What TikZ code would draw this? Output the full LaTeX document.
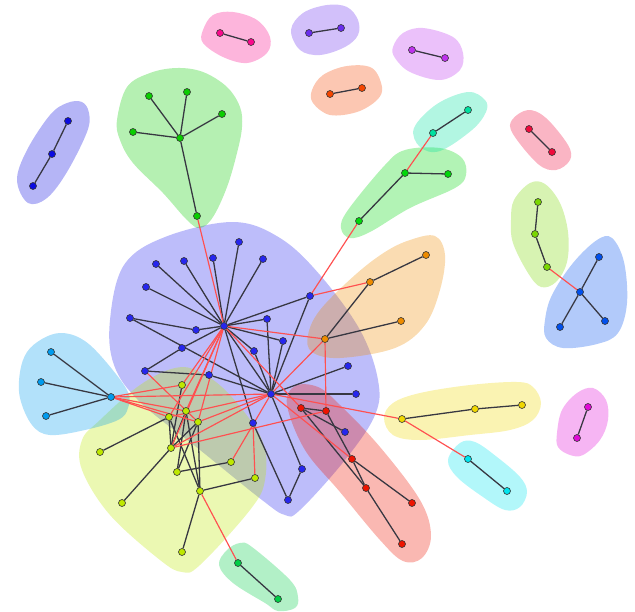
\documentclass[tikz,border=0pt]{standalone}
\usepackage{xcolor}
\usepackage{tikz}
\usetikzlibrary{calc}
\definecolor{clblue}{RGB}{38, 38, 238}
\definecolor{clyellow}{RGB}{190, 232, 0}
\definecolor{clred}{RGB}{238, 20, 0}
\definecolor{clorange}{RGB}{238, 140, 0}
\definecolor{clcyan}{RGB}{0, 155, 238}
\definecolor{clgreen}{RGB}{10, 205, 0}
\definecolor{clgreenb}{RGB}{0, 215, 10}
\definecolor{clteal}{RGB}{0, 225, 160}
\definecolor{clpink}{RGB}{250, 10, 140}
\definecolor{clpurple}{RGB}{105, 45, 238}
\definecolor{clviolet}{RGB}{190, 50, 238}
\definecolor{clrust}{RGB}{245, 70, 0}
\definecolor{clrose}{RGB}{240, 10, 60}
\definecolor{cllime}{RGB}{122, 215, 0}
\definecolor{clsky}{RGB}{0, 80, 238}
\definecolor{clgold}{RGB}{240, 215, 0}
\definecolor{claqua}{RGB}{0, 228, 238}
\definecolor{clmagenta}{RGB}{225, 10, 215}
\definecolor{clmint}{RGB}{0, 205, 70}
\definecolor{clnavy}{RGB}{10, 10, 225}
\definecolor{linkdark}{RGB}{55, 55, 65}
\definecolor{linkred}{RGB}{255, 80, 80}
\pgfdeclarelayer{hulls}
\pgfdeclarelayer{links}
\pgfsetlayers{hulls,links,main}
\tikzset{
    vertex/.style={circle, draw=black!80, line width=0.5pt, fill=#1, minimum size=6pt, inner sep=0pt},
    hull/.style={fill=#1, fill opacity=0.3, draw=none},
    link/.style={draw=linkdark, line width=1.1pt},
    cross/.style={draw=linkred, line width=1pt}
}

\begin{document}
\begin{tikzpicture}[x=0.03cm, y=-0.03cm]
    \useasboundingbox (0,0) rectangle (635,612);

    % blue group
    \node (bA) [vertex=clblue] at (224,326) {};
    \node (bB) [vertex=clblue] at (271,394) {};
    \node (b1) [vertex=clblue] at (239,242) {};
    \node (b2) [vertex=clblue] at (263,259) {};
    \node (b3) [vertex=clblue] at (213,258) {};
    \node (b4) [vertex=clblue] at (184,261) {};
    \node (b5) [vertex=clblue] at (156,264) {};
    \node (b6) [vertex=clblue] at (146,287) {};
    \node (b7) [vertex=clblue] at (130,318) {};
    \node (b8) [vertex=clblue] at (196,330) {};
    \node (b9) [vertex=clblue] at (182,348) {};
    \node (b10) [vertex=clblue] at (145,371) {};
    \node (b11) [vertex=clblue] at (209,375) {};
    \node (b12) [vertex=clblue] at (254,351) {};
    \node (b13) [vertex=clblue] at (283,341) {};
    \node (b14) [vertex=clblue] at (267,319) {};
    \node (b15) [vertex=clblue] at (310,296) {};
    \node (b16) [vertex=clblue] at (348,366) {};
    \node (b17) [vertex=clblue] at (356,394) {};
    \node (b18) [vertex=clblue] at (253,423) {};
    \node (b19) [vertex=clblue] at (345,432) {};
    \node (b20) [vertex=clblue] at (302,469) {};
    \node (b21) [vertex=clblue] at (288,500) {};

    % yellow group
    \node (y1) [vertex=clyellow] at (182,385) {};
    \node (y2) [vertex=clyellow] at (186,411) {};
    \node (y3) [vertex=clyellow] at (169,417) {};
    \node (y4) [vertex=clyellow] at (198,422) {};
    \node (y5) [vertex=clyellow] at (171,448) {};
    \node (y6) [vertex=clyellow] at (177,472) {};
    \node (y7) [vertex=clyellow] at (231,462) {};
    \node (y8) [vertex=clyellow] at (255,478) {};
    \node (y9) [vertex=clyellow] at (200,491) {};
    \node (y10) [vertex=clyellow] at (100,452) {};
    \node (y11) [vertex=clyellow] at (122,503) {};
    \node (y12) [vertex=clyellow] at (182,552) {};

    % red group
    \node (r1) [vertex=clred] at (301,408) {};
    \node (r2) [vertex=clred] at (326,411) {};
    \node (r3) [vertex=clred] at (352,459) {};
    \node (r4) [vertex=clred] at (366,488) {};
    \node (r5) [vertex=clred] at (412,503) {};
    \node (r6) [vertex=clred] at (402,544) {};

    % orange group
    \node (o1) [vertex=clorange] at (325,339) {};
    \node (o2) [vertex=clorange] at (370,282) {};
    \node (o3) [vertex=clorange] at (426,255) {};
    \node (o4) [vertex=clorange] at (401,321) {};

    % cyan group
    \node (c0) [vertex=clcyan] at (111,397) {};
    \node (c1) [vertex=clcyan] at (51,352) {};
    \node (c2) [vertex=clcyan] at (41,382) {};
    \node (c3) [vertex=clcyan] at (46,416) {};

    % green tree
    \node (g0) [vertex=clgreen] at (180,138) {};
    \node (g1) [vertex=clgreen] at (149,96) {};
    \node (g2) [vertex=clgreen] at (187,92) {};
    \node (g3) [vertex=clgreen] at (222,114) {};
    \node (g4) [vertex=clgreen] at (133,132) {};
    \node (g5) [vertex=clgreen] at (197,216) {};

    % small groups
    \node (h1) [vertex=clgreenb] at (405,173) {};
    \node (h2) [vertex=clgreenb] at (448,174) {};
    \node (h3) [vertex=clgreenb] at (359,221) {};
    \node (t1) [vertex=clteal] at (468,110) {};
    \node (t2) [vertex=clteal] at (433,133) {};
    \node (p1) [vertex=clpink] at (220,33) {};
    \node (p2) [vertex=clpink] at (251,42) {};
    \node (u1) [vertex=clpurple] at (309,33) {};
    \node (u2) [vertex=clpurple] at (341,28) {};
    \node (v1) [vertex=clviolet] at (412,50) {};
    \node (v2) [vertex=clviolet] at (445,58) {};
    \node (s1) [vertex=clrust] at (330,94) {};
    \node (s2) [vertex=clrust] at (362,88) {};
    \node (k1) [vertex=clrose] at (529,129) {};
    \node (k2) [vertex=clrose] at (552,152) {};
    \node (l1) [vertex=cllime] at (538,202) {};
    \node (l2) [vertex=cllime] at (535,234) {};
    \node (l3) [vertex=cllime] at (547,267) {};
    \node (q0) [vertex=clsky] at (580,292) {};
    \node (q1) [vertex=clsky] at (599,257) {};
    \node (q2) [vertex=clsky] at (560,327) {};
    \node (q3) [vertex=clsky] at (605,321) {};
    \node (w1) [vertex=clgold] at (402,419) {};
    \node (w2) [vertex=clgold] at (475,409) {};
    \node (w3) [vertex=clgold] at (522,405) {};
    \node (a1) [vertex=claqua] at (468,459) {};
    \node (a2) [vertex=claqua] at (507,491) {};
    \node (m1) [vertex=clmagenta] at (588,407) {};
    \node (m2) [vertex=clmagenta] at (577,438) {};
    \node (e1) [vertex=clmint] at (238,563) {};
    \node (e2) [vertex=clmint] at (278,599) {};
    \node (n1) [vertex=clnavy] at (68,121) {};
    \node (n2) [vertex=clnavy] at (52,154) {};
    \node (n3) [vertex=clnavy] at (33,186) {};

    \begin{pgfonlayer}{links}
    \foreach \n in {b1,b2,b3,b4,b5,b6,b8,b9,b12,b13,b14,b15,b18,bB}
        \draw [link] (bA) -- (\n);
    \foreach \n in {b7,b11,b12,b13,b14,b15,b16,b17,b20}
        \draw [link] (bB) -- (\n);
    \draw [link] (b7) -- (b8);
    \draw [link] (b9) -- (b10);
    \draw [link] (b10) -- (b11);
    \draw [link] (b18) -- (b21);
    \draw [link] (b20) -- (b21);
    \draw [link] (b19) -- (r1);

    \draw [link] (y1) -- (y5);
    \draw [link] (y3) -- (y5);
    \draw [link] (y3) -- (y9);
    \draw [link] (y2) -- (y6);
    \draw [link] (y2) -- (y5);
    \draw [link] (y4) -- (y5);
    \draw [link] (y4) -- (y6);
    \draw [link] (y4) -- (y9);
    \draw [link] (y2) -- (y9);
    \draw [link] (y6) -- (y7);
    \draw [link] (y9) -- (y8);
    \draw [link] (y5) -- (y11);
    \draw [link] (y3) -- (y10);
    \draw [link] (y9) -- (y12);

    \draw [link] (r1) -- (r2);
    \draw [link] (r1) -- (r4);
    \draw [link] (r2) -- (r3);
    \draw [link] (r3) -- (r4);
    \draw [link] (r3) -- (r5);
    \draw [link] (r4) -- (r6);

    \draw [link] (o1) -- (o2);
    \draw [link] (o2) -- (o3);
    \draw [link] (o1) -- (o4);

    \foreach \n in {c1,c2,c3}
        \draw [link] (c0) -- (\n);
    \foreach \n in {g1,g2,g3,g4,g5}
        \draw [link] (g0) -- (\n);
    \foreach \n in {q1,q2,q3}
        \draw [link] (q0) -- (\n);
    \draw [link] (h1) -- (h2);
    \draw [link] (h1) -- (h3);
    \draw [link] (t1) -- (t2);
    \draw [link] (p1) -- (p2);
    \draw [link] (u1) -- (u2);
    \draw [link] (v1) -- (v2);
    \draw [link] (s1) -- (s2);
    \draw [link] (k1) -- (k2);
    \draw [link] (l1) -- (l2);
    \draw [link] (l2) -- (l3);
    \draw [link] (w1) -- (w2);
    \draw [link] (w2) -- (w3);
    \draw [link] (a1) -- (a2);
    \draw [link] (m1) -- (m2);
    \draw [link] (e1) -- (e2);
    \draw [link] (n1) -- (n2);
    \draw [link] (n2) -- (n3);

    % links between groups
    \foreach \n in {y1,y2,y3,y4,y5,g5,o1,r1}
        \draw [cross] (bA) -- (\n);
    \foreach \n in {y3,y4,y5,y7,o1,r3,w1,c0}
        \draw [cross] (bB) -- (\n);
    \foreach \n in {y1,y2,y3,y4}
        \draw [cross] (c0) -- (\n);
    \draw [cross] (b10) -- (y4);
    \draw [cross] (b18) -- (y8);
    \draw [cross] (y5) -- (r2);
    \draw [cross] (o1) -- (r2);
    \draw [cross] (b15) -- (o2);
    \draw [cross] (b15) -- (h3);
    \draw [cross] (h1) -- (t2);
    \draw [cross] (w1) -- (a1);
    \draw [cross] (l3) -- (q0);
    \draw [cross] (y9) -- (e1);
    \end{pgfonlayer}

    \begin{pgfonlayer}{hulls}
    \fill [hull=clblue] plot [smooth cycle, tension=0.6] coordinates {(233,222) (280,238) (320,275) (360,330) (378,380) (375,415) (345,460) (300,510) (285,515) (262,500) (200,450) (140,402) (114,365) (110,320) (124,265) (165,237)};
    \fill [hull=clyellow] plot [smooth cycle, tension=0.6] coordinates {(175,368) (200,372) (230,395) (262,440) (265,480) (250,510) (200,565) (182,572) (160,560) (110,515) (82,470) (82,440) (100,420) (140,385)};
    \fill [hull=clred] plot [smooth cycle, tension=0.6] coordinates {(295,386) (318,387) (340,405) (380,447) (420,500) (431,535) (422,558) (403,561) (380,540) (340,492) (305,450) (287,405)};
    \fill [hull=clorange] plot [smooth cycle, tension=0.6] coordinates {(410,240) (435,236) (445,255) (440,290) (425,325) (395,348) (340,358) (312,352) (308,335) (320,310) (355,275) (385,252)};
    \fill [hull=clcyan] plot [smooth cycle, tension=0.6] coordinates {(20,372) (27,352) (42,339) (60,333) (80,338) (100,355) (127,390) (128,408) (118,420) (85,430) (50,435) (32,425) (20,398)};
    \fill [hull=clgreen] plot [smooth cycle, tension=0.6] coordinates {(117,120) (127,87) (150,73) (177,68) (203,72) (227,87) (240,107) (242,127) (237,153) (227,187) (213,217) (200,228) (187,220) (163,193) (133,163) (120,140)};
    \fill [hull=clgreenb] plot [smooth cycle, tension=0.6] coordinates {(405,150) (440,148) (462,158) (466,175) (455,188) (410,208) (370,232) (350,238) (341,228) (348,210) (385,165)};
    \fill [hull=clteal] plot [smooth cycle, tension=0.6] coordinates {(414,128) (437,104) (468,92) (485,100) (486,112) (472,130) (440,151) (420,147)};
    \fill [hull=clrose] plot [smooth cycle, tension=0.6] coordinates {(512,120) (528,110) (546,118) (568,145) (570,160) (556,170) (538,164) (513,134)};
    \fill [hull=cllime] plot [smooth cycle, tension=0.6] coordinates {(514,200) (530,183) (545,184) (560,203) (568,232) (567,262) (556,282) (541,287) (528,273) (513,243) (511,220)};
    \fill [hull=clsky] plot [smooth cycle, tension=0.6] coordinates {(545,320) (552,295) (573,263) (597,240) (612,238) (624,262) (627,303) (618,333) (597,344) (563,348) (546,338)};
    \fill [hull=clpurple] plot [smooth cycle, tension=0.6] coordinates {(291,30) (303,13) (327,5) (347,7) (358,20) (358,35) (345,47) (320,55) (300,50)};
    \fill [hull=clpink] plot [smooth cycle, tension=0.6] coordinates {(203,30) (213,15) (233,12) (257,20) (270,37) (267,53) (247,63) (223,57) (203,43)};
    \fill [hull=clviolet] plot [smooth cycle, tension=0.6] coordinates {(393,47) (403,33) (423,28) (453,37) (463,53) (460,70) (440,80) (410,72) (395,58)};
    \fill [hull=clrust] plot [smooth cycle, tension=0.6] coordinates {(312,90) (323,75) (347,66) (372,68) (382,87) (377,100) (357,112) (330,115) (313,103)};
    \fill [hull=clnavy] plot [smooth cycle, tension=0.6] coordinates {(17,180) (27,150) (50,115) (67,103) (82,102) (89,113) (87,132) (67,172) (47,198) (28,203)};
    \fill [hull=clgold] plot [smooth cycle, tension=0.6] coordinates {(384,418) (393,403) (420,393) (470,385) (517,382) (533,387) (541,403) (533,420) (510,430) (470,435) (420,440) (393,435)};
    \fill [hull=claqua] plot [smooth cycle, tension=0.6] coordinates {(448,460) (460,443) (475,442) (497,457) (520,477) (527,492) (520,507) (505,510) (483,497) (457,477)};
    \fill [hull=clmagenta] plot [smooth cycle, tension=0.6] coordinates {(557,433) (562,410) (577,393) (593,388) (606,400) (608,420) (600,440) (583,455) (570,455) (558,447)};
    \fill [hull=clmint] plot [smooth cycle, tension=0.6] coordinates {(219,565) (227,550) (240,543) (252,547) (290,580) (298,597) (295,608) (278,611) (265,603) (233,583)};
    \end{pgfonlayer}
\end{tikzpicture}
\end{document}
